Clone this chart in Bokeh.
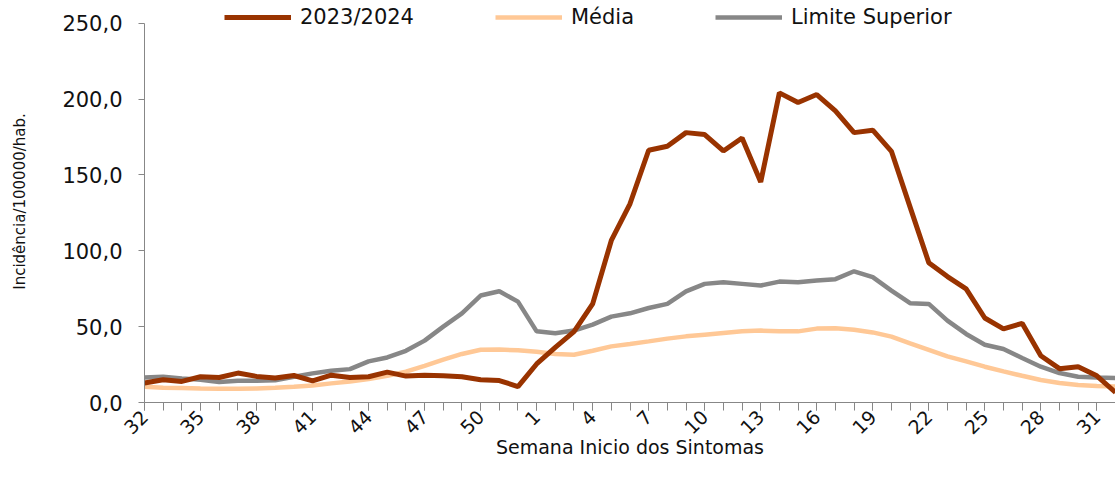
import math
from bokeh.plotting import figure
from bokeh.models import FixedTicker, Legend, LegendItem
from bokeh.embed import file_html
from bokeh.resources import INLINE

# --- data -----------------------------------------------------------------
weeks = list(range(32, 53)) + list(range(1, 33))

serie_2023_2024 = [12.8, 15.0, 13.9, 17.0, 16.5, 19.4, 17.2, 16.1, 17.8, 14.3,
                   18.0, 16.5, 17.0, 20.0, 17.4, 18.0, 17.6, 17.0, 15.0, 14.5,
                   10.5, 25.4, 36.3, 46.7, 65.0, 106.8, 131.0, 166.3, 168.9, 177.9,
                   176.6, 165.8, 174.4, 145.3, 204.1, 197.8, 203.0, 192.2, 177.9, 179.5,
                   165.6, 128.8, 92.2, 83.0, 74.9, 55.7, 48.5, 52.2, 30.8, 22.3,
                   23.6, 17.6, 6.6]

media = [10.4, 9.7, 9.5, 9.2, 9.0, 9.0, 9.2, 9.7, 10.4, 11.2,
         12.6, 13.9, 15.4, 17.6, 20.3, 24.2, 28.2, 32.0, 34.8, 34.9,
         34.4, 33.5, 32.0, 31.5, 34.1, 37.0, 38.6, 40.3, 42.1, 43.6,
         44.7, 45.8, 46.9, 47.4, 46.9, 46.9, 48.7, 48.9, 48.0, 46.2,
         43.4, 39.0, 34.7, 30.4, 27.1, 23.6, 20.5, 17.6, 14.8, 12.8,
         11.5, 10.8, 10.6]

limite_superior = [16.5, 16.9, 15.9, 15.0, 13.5, 14.3, 14.3, 14.7, 17.0, 19.2,
                   20.9, 22.0, 27.1, 29.7, 34.1, 40.8, 50.0, 58.8, 70.5, 73.3,
                   66.5, 46.9, 45.6, 47.4, 51.3, 56.6, 58.8, 62.3, 65.0, 73.3,
                   78.2, 79.3, 78.2, 77.1, 79.7, 79.3, 80.4, 81.3, 86.5, 82.6,
                   73.8, 65.5, 65.0, 54.0, 45.2, 38.1, 35.3, 29.3, 23.6, 19.4,
                   17.0, 16.5, 16.1]

y_ticks = [0, 50, 100, 150, 200, 250]
y_tick_labels = ["0,0", "50,0", "100,0", "150,0", "200,0", "250,0"]

series_names = ["2023/2024", "Média", "Limite Superior"]
x_title = "Semana Inicio dos Sintomas"
y_title = "Incidência/100000/hab."

# --- figure ---------------------------------------------------------------
x = list(range(len(weeks)))
FONT = "DejaVu Sans"
AXIS_COLOR = "#878787"
TEXT_COLOR = "#111111"

p = figure(width=1115, height=484, output_backend="svg", toolbar_location=None,
           x_range=(0, len(weeks) - 1), y_range=(0, 265),
           min_border_left=144, min_border_right=0, min_border_top=0,
           min_border_bottom=82)
p.outline_line_color = None
p.xgrid.visible = False
p.ygrid.visible = False
p.background_fill_color = "white"
p.border_fill_color = "white"

r_media = p.line(x, media, line_color="#FFC896", line_width=4.5)
r_lim = p.line(x, limite_superior, line_color="#878787", line_width=4.5)
r_main = p.line(x, serie_2023_2024, line_color="#993300", line_width=5)

# y axis
ya = p.yaxis[0]
ya.ticker = FixedTicker(ticks=y_ticks, minor_ticks=[])
ya.bounds = (y_ticks[0], y_ticks[-1])
ya.major_label_overrides = {t: l for t, l in zip(y_ticks, y_tick_labels)}
ya.axis_line_color = AXIS_COLOR
ya.major_tick_line_color = AXIS_COLOR
ya.major_tick_out = 6
ya.major_tick_in = 0
ya.minor_tick_line_color = None
ya.major_label_text_font = FONT
ya.major_label_text_font_size = "21px"
ya.major_label_text_color = TEXT_COLOR
ya.major_label_standoff = 16
ya.axis_label = y_title
ya.axis_label_text_font = FONT
ya.axis_label_text_font_size = "15px"
ya.axis_label_text_font_style = "normal"
ya.axis_label_text_color = TEXT_COLOR
ya.axis_label_standoff = 30

# x axis
xa = p.xaxis[0]
labeled = x[::3]
xa.ticker = FixedTicker(ticks=labeled, minor_ticks=x)
xa.major_label_overrides = {i: str(weeks[i]) for i in labeled}
xa.major_label_orientation = math.pi / 4
xa.axis_line_color = AXIS_COLOR
xa.major_tick_line_color = AXIS_COLOR
xa.minor_tick_line_color = AXIS_COLOR
xa.major_tick_out = 8
xa.major_tick_in = 0
xa.minor_tick_out = 8
xa.minor_tick_in = 0
xa.major_label_text_font = FONT
xa.major_label_text_font_size = "19px"
xa.major_label_text_color = TEXT_COLOR
xa.major_label_standoff = 3
xa.axis_label = x_title
xa.axis_label_text_font = FONT
xa.axis_label_text_font_size = "19px"
xa.axis_label_text_font_style = "normal"
xa.axis_label_text_color = TEXT_COLOR
xa.axis_label_standoff = -7

legend = Legend(items=[LegendItem(label=series_names[0], renderers=[r_main]),
                       LegendItem(label=series_names[1], renderers=[r_media]),
                       LegendItem(label=series_names[2], renderers=[r_lim])],
                orientation="horizontal", location=(80, 373),
                glyph_width=67, glyph_height=20, label_height=20,
                label_standoff=9, spacing=81, padding=0, margin=0,
                border_line_color=None, background_fill_alpha=0,
                label_text_font=FONT, label_text_font_size="21px",
                label_text_color=TEXT_COLOR)
p.add_layout(legend, "center")

open("out.html", "w").write(file_html(p, INLINE))
